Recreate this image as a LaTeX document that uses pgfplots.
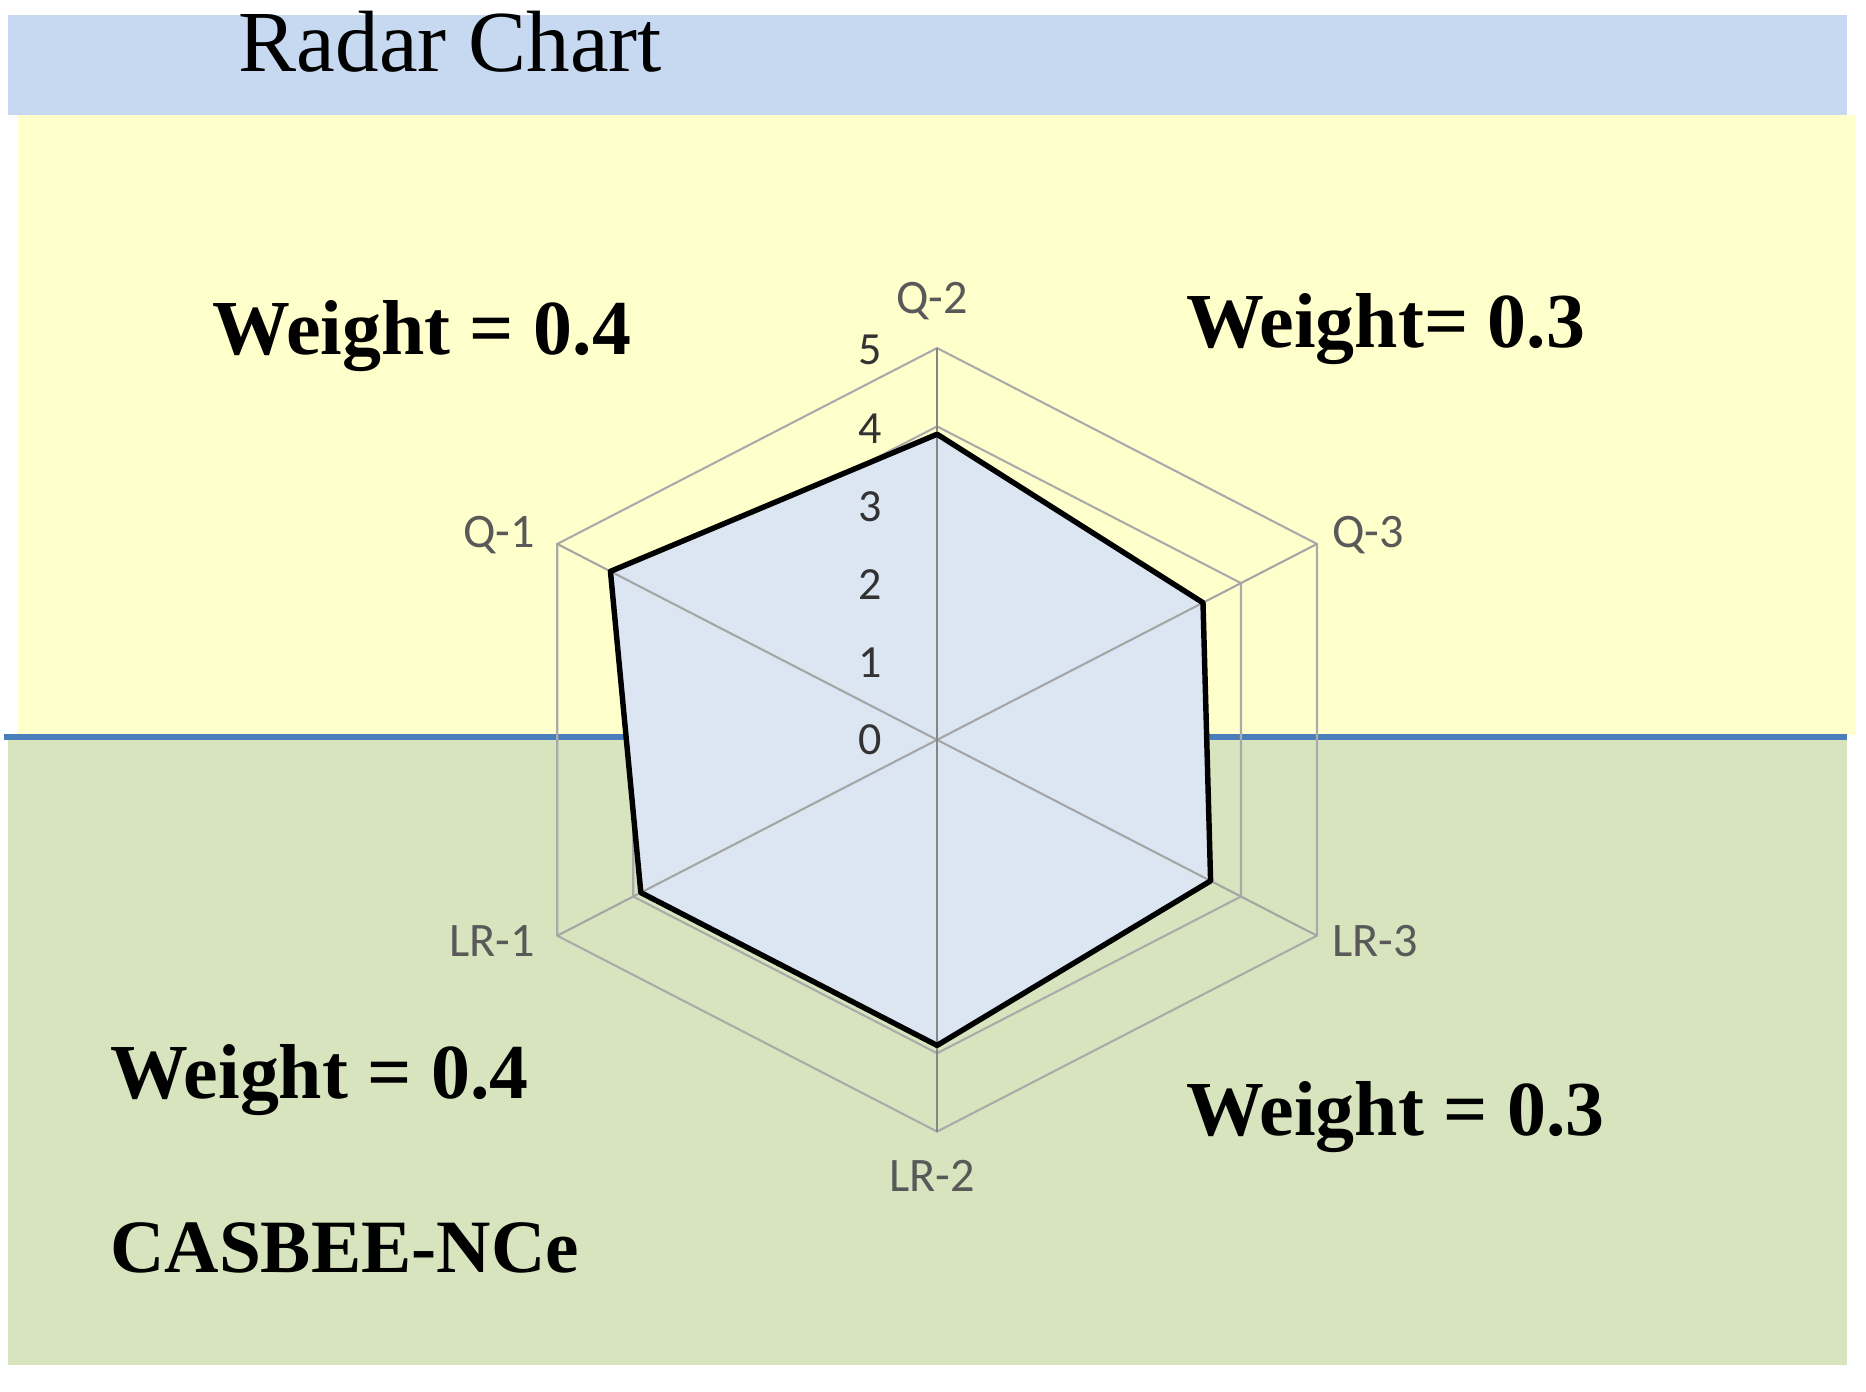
\documentclass[border=0pt]{standalone}
\usepackage{fontspec}
\setmainfont{Liberation Serif}
\newfontfamily\chartfont{Carlito}
\usepackage{pgfplots}
\usepackage{pgfplotstable}
\pgfplotsset{compat=1.18}

\definecolor{titleband}{RGB}{198,217,241}
\definecolor{upperband}{RGB}{255,255,204}
\definecolor{lowerband}{RGB}{215,228,189}
\definecolor{splitline}{RGB}{74,126,187}
\definecolor{areafill}{RGB}{220,230,242}
\definecolor{ringgray}{RGB}{170,170,170}
\definecolor{spokegray}{RGB}{165,165,165}
\definecolor{axisgray}{RGB}{134,134,134}
\definecolor{labelgray}{RGB}{89,89,89}
\definecolor{tickgray}{RGB}{50,50,50}

% category, angle of its spoke (deg), score
\pgfplotstableread{
cat angle score
Q-1 150 4.3
Q-2 90 3.9
Q-3 30 3.5
LR-3 -30 3.6
LR-2 -90 3.9
LR-1 210 3.9
Q-1 150 4.3
}\scores

\begin{document}
\begin{tikzpicture}
% backgrounds, in px of a 1568x1169 frame (y up)
\begin{scope}[x=0.01cm,y=0.01cm]
  \fill[white] (0,0) rectangle (1568,1169);
  \fill[titleband] (7,1156) rectangle (1552,1072);
  \fill[upperband] (15,1072) rectangle (1560,551);
  \fill[lowerband] (7,549) rectangle (1552,22);
  \draw[splitline, line width=1.4pt] (3,550) -- (1552,550);
\end{scope}

% rings under the area
\begin{scope}[shift={(7.87cm,5.47cm)},x=0.7367cm,y=0.658cm]
  \foreach \r in {1,...,5}
    \draw[ringgray, line width=0.5pt] (90:\r) -- (30:\r) -- (-30:\r) -- (-90:\r) -- (210:\r) -- (150:\r) -- cycle;
\end{scope}

\begin{axis}[
    at={(7.87cm,5.47cm)}, anchor=origin,
    x=0.7367cm, y=0.658cm,
    xmin=-5, xmax=5, ymin=-5, ymax=5,
    hide axis, clip=false,
  ]
  \addplot[fill=areafill, draw=none] table[
      x expr={\thisrow{score}*cos(\thisrow{angle})},
      y expr={\thisrow{score}*sin(\thisrow{angle})}] {\scores};

  % spokes
  \draw[spokegray, line width=0.5pt] (axis cs:-4.3301,2.5) -- (axis cs:4.3301,-2.5);
  \draw[spokegray, line width=0.5pt] (axis cs:-4.3301,-2.5) -- (axis cs:4.3301,2.5);
  \draw[axisgray, line width=0.6pt] (axis cs:0,-5) -- (axis cs:0,5);

  \addplot[black, line width=1.3pt, line join=round, line cap=round] table[
      x expr={\thisrow{score}*cos(\thisrow{angle})},
      y expr={\thisrow{score}*sin(\thisrow{angle})}] {\scores};
\end{axis}

% labels and texts
\begin{scope}[x=0.01cm,y=0.01cm]
  \begin{scope}[font=\chartfont\fontsize{11}{13}\selectfont, text=tickgray]
    \node at (731,547) {0};
    \node at (731,612) {1};
    \node at (731,678) {2};
    \node at (731,743) {3};
    \node at (731,809) {4};
    \node at (731,875) {5};
  \end{scope}
  \begin{scope}[font=\chartfont\fontsize{11.5}{13}\selectfont, text=labelgray]
    \node at (783,916) {Q-2};
    \node[anchor=west, inner sep=0pt] at (1119,719) {Q-3};
    \node[anchor=west, inner sep=0pt] at (1119,378) {LR-3};
    \node at (783,181) {LR-2};
    \node[anchor=east, inner sep=0pt] at (450,378) {LR-1};
    \node[anchor=east, inner sep=0pt] at (450,719) {Q-1};
  \end{scope}

  \node[anchor=base west, inner sep=0pt, font=\fontsize{20.8}{24}\selectfont] at (200,1109) {Radar Chart};

  \begin{scope}[font=\bfseries\fontsize{18.6}{22}\selectfont]
    \node[anchor=base west, inner sep=0pt] at (178,871) {Weight = 0.4};
    \node[anchor=base west, inner sep=0pt] at (996,877) {Weight= 0.3};
    \node[anchor=base west, inner sep=0pt] at (92,246) {Weight = 0.4};
    \node[anchor=base west, inner sep=0pt] at (996,215) {Weight = 0.3};
  \end{scope}
  \node[anchor=base west, inner sep=0pt, font=\bfseries\fontsize{18}{22}\selectfont] at (92,100) {CASBEE-NCe};
\end{scope}
\end{tikzpicture}
\end{document}
